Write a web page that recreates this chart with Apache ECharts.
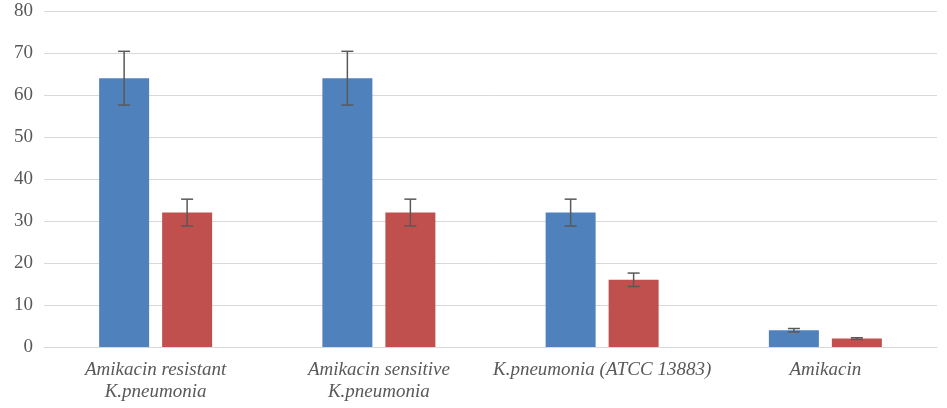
<!DOCTYPE html>
<html>
<head>
<meta charset="utf-8">
<script src="https://cdn.jsdelivr.net/npm/echarts@6/dist/echarts.min.js"></script>
<style>
  html, body { margin: 0; padding: 0; background: #fff; }
  #chart { width: 947px; height: 408px; }
</style>
</head>
<body>
<div id="chart"></div>
<script>
"use strict";

// data
var categories = ["Amikacin resistant\nK.pneumonia", "Amikacin sensitive\nK.pneumonia", "K.pneumonia (ATCC 13883)", "Amikacin"];
var blueValues = [64, 64, 32, 4];
var redValues = [32, 32, 16, 2];
var blueErrors = [6.4, 6.4, 3.2, 0.4];
var redErrors = [3.2, 3.2, 1.6, 0.2];

var BAR_W = 50;
var GAP = 13;

var chart = echarts.init(document.querySelector("#chart"));

// error bar item, shifted to sit on its bar
function errorBar(offset) {
    return function (params, api) {
        var idx = api.value(0);
        var lo = api.coord([idx, api.value(1)]);
        var hi = api.coord([idx, api.value(2)]);
        var x = lo[0] + offset;
        var cap = 6;
        var style = { stroke: "#595959", lineWidth: 1.5 };
        return {
            type: "group",
            children: [
                { type: "line", shape: { x1: x, y1: hi[1], x2: x, y2: lo[1] }, style: style },
                { type: "line", shape: { x1: x - cap, y1: hi[1], x2: x + cap, y2: hi[1] }, style: style },
                { type: "line", shape: { x1: x - cap, y1: lo[1], x2: x + cap, y2: lo[1] }, style: style }
            ]
        };
    };
}

function errData(vals, errs) {
    return vals.map(function (v, i) { return [i, v - errs[i], v + errs[i]]; });
}

var offset = (BAR_W + GAP) / 2;

var option = {
    animation: false,
    grid: { left: 44, right: 10, top: 11, bottom: 61 },
    xAxis: {
        type: "category",
        data: categories,
        axisLine: { lineStyle: { color: "#D9D9D9", width: 1 } },
        axisTick: { show: false },
        axisLabel: {
            interval: 0,
            margin: 12,
            fontFamily: "Liberation Serif",
            fontStyle: "italic",
            fontSize: 19,
            lineHeight: 22,
            color: "#595959"
        }
    },
    yAxis: {
        type: "value",
        min: 0,
        max: 80,
        interval: 10,
        axisLine: { show: false },
        axisTick: { show: false },
        splitLine: { lineStyle: { color: "#D9D9D9", width: 1 } },
        axisLabel: {
            margin: 11,
            fontFamily: "Liberation Serif",
            fontSize: 19,
            color: "#595959"
        }
    },
    series: [
        {
            type: "bar",
            data: blueValues,
            barWidth: BAR_W,
            barGap: (GAP / BAR_W * 100) + "%",
            itemStyle: { color: "#4F81BD" }
        },
        {
            type: "bar",
            data: redValues,
            barWidth: BAR_W,
            itemStyle: { color: "#C0504D" }
        },
        {
            type: "custom",
            renderItem: errorBar(-offset),
            data: errData(blueValues, blueErrors),
            encode: { x: 0, y: [1, 2] },
            z: 10
        },
        {
            type: "custom",
            renderItem: errorBar(offset),
            data: errData(redValues, redErrors),
            encode: { x: 0, y: [1, 2] },
            z: 10
        }
    ]
};

chart.setOption(option);
</script>
</body>
</html>
